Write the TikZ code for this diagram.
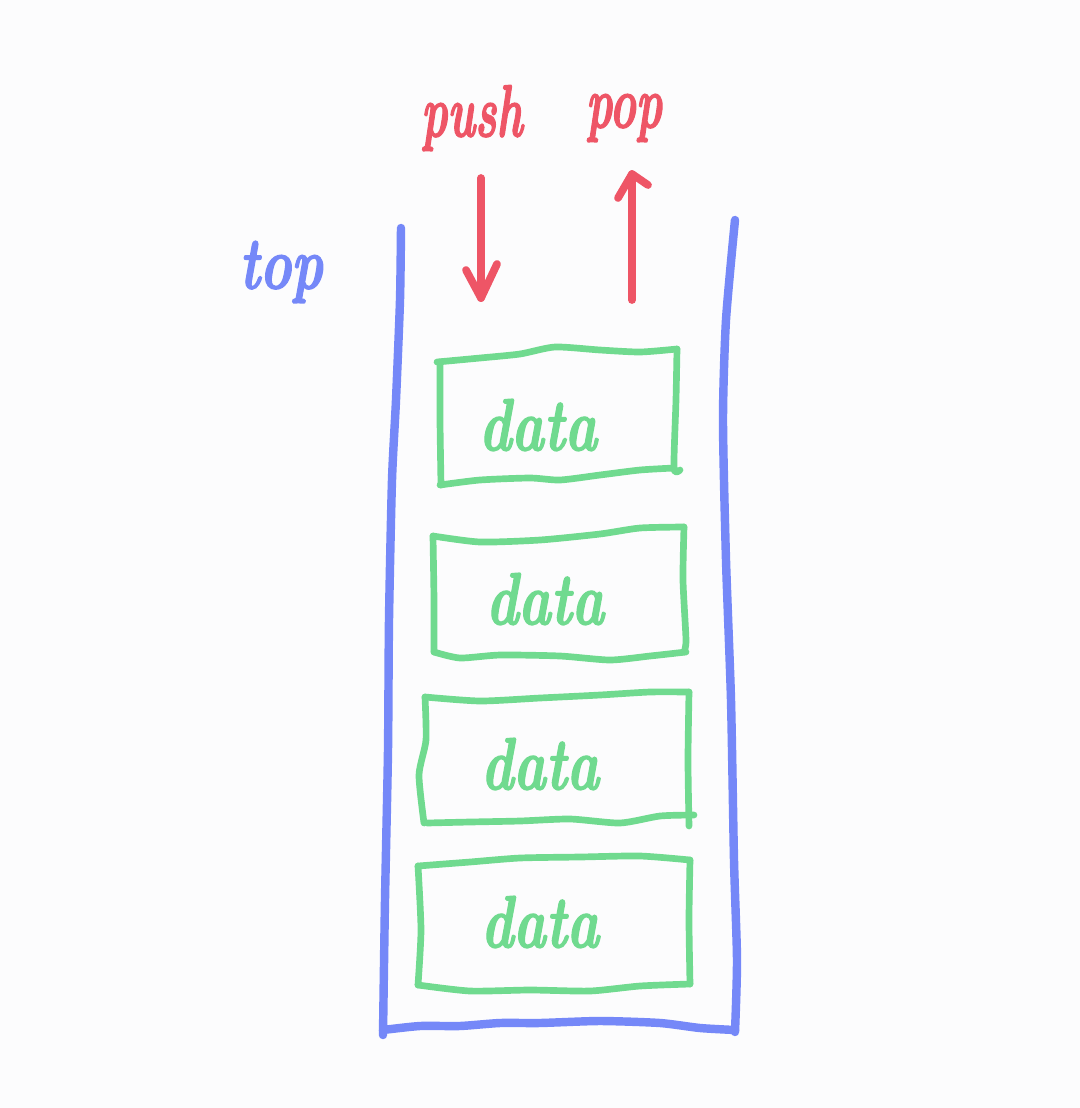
\documentclass[tikz,border=0pt]{standalone}
\usepackage{fontspec}
\setmainfont{Latin Modern Roman}
\newfontfamily\handfont{lmroman10-bolditalic.otf}[FakeBold=2]
\definecolor{sblue}{HTML}{7588F8}
\definecolor{sred}{HTML}{EE5566}
\definecolor{sgreen}{HTML}{70DA8F}
\definecolor{bg}{HTML}{FCFCFD}
\begin{document}
\begin{tikzpicture}[x=0.01cm,y=-0.01cm,
  bluepen/.style={draw=sblue,line width=2.4pt,line cap=round,line join=round},
  redpen/.style={draw=sred,line width=2.2pt,line cap=round,line join=round},
  greenpen/.style={draw=sgreen,line width=1.9pt,line cap=round,line join=round},
  hand/.style={font=\handfont\fontsize{21}{24}\selectfont},
  datalbl/.style={hand,text=sgreen,xscale=0.74},
  redlbl/.style={hand,text=sred,xscale=0.6},
  bluelbl/.style={hand,text=sblue,xscale=0.72}]
\fill[bg] (0,0) rectangle (1080,1108);
\useasboundingbox (0,0) rectangle (1080,1108);

% container
\draw[bluepen] plot[smooth,tension=0.4] coordinates {(401,228) (400,300) (396,400) (392,480) (389,620) (388,750) (385,900) (383,1035)};
\draw[bluepen] plot[smooth,tension=0.4] coordinates {(383,1030) (420,1026) (460,1026) (500,1023) (540,1023) (600,1021) (660,1023) (700,1028) (735,1030)};
\draw[bluepen] plot[smooth,tension=0.4] coordinates {(735,1032) (737,960) (734,860) (731,700) (726,560) (723,420) (726,320) (735,220)};

% labels
\node[bluelbl] (top) at (281,272) {top};
\node[redlbl] (push) at (472,118) {push};
\node[redlbl] (pop) at (624,118) {pop};

% arrows
\coordinate (pushA) at (481,178);
\coordinate (pushB) at (481,298);
\coordinate (popA) at (632,300);
\coordinate (popB) at (632,174);
\draw[redpen] (pushA) -- (pushB);
\draw[redpen] (466,270) -- (pushB) -- (497,264);
\draw[redpen] (popA) -- (popB);
\draw[redpen] (618,198) -- (popB) -- (648,185);

% boxes
% box 1
\draw[greenpen] plot[smooth,tension=0.4] coordinates {(437,362) (480,358) (520,354) (555,347) (600,350) (640,352) (677,349)};
\draw[greenpen] plot[smooth,tension=0.4] coordinates {(677,349) (676,400) (674,468) (680,470)};
\draw[greenpen] plot[smooth,tension=0.4] coordinates {(440,485) (480,480) (530,478) (560,480) (600,475) (640,470) (674,468)};
\draw[greenpen] plot[smooth,tension=0.4] coordinates {(440,362) (440,420) (441,485)};
\node[datalbl] (d1) at (538,425) {data};
% box 2
\draw[greenpen] plot[smooth,tension=0.4] coordinates {(433,536) (480,542) (540,540) (600,534) (640,528) (684,527)};
\draw[greenpen] plot[smooth,tension=0.4] coordinates {(684,527) (683,580) (686,640) (684,652)};
\draw[greenpen] plot[smooth,tension=0.4] coordinates {(434,652) (460,658) (500,655) (560,656) (610,660) (650,656) (686,652)};
\draw[greenpen] plot[smooth,tension=0.4] coordinates {(433,536) (434,600) (434,652)};
\node[datalbl] (d2) at (545,599) {data};
% box 3
\draw[greenpen] plot[smooth,tension=0.4] coordinates {(425,697) (480,701) (540,698) (600,695) (650,692) (689,692)};
\draw[greenpen] plot[smooth,tension=0.4] coordinates {(689,692) (688,760) (689,826)};
\draw[greenpen] plot[smooth,tension=0.4] coordinates {(427,823) (470,822) (520,821) (570,819) (620,823) (660,816) (694,815)};
\draw[greenpen] plot[smooth,tension=0.4] coordinates {(425,697) (426,740) (419,775) (424,823)};
\node[datalbl] (d3) at (540,764) {data};
% box 4
\draw[greenpen] plot[smooth,tension=0.4] coordinates {(418,866) (470,862) (520,858) (580,857) (640,856) (690,860)};
\draw[greenpen] plot[smooth,tension=0.4] coordinates {(690,860) (689,920) (690,984)};
\draw[greenpen] plot[smooth,tension=0.4] coordinates {(418,985) (470,991) (530,990) (590,991) (640,986) (690,984)};
\draw[greenpen] plot[smooth,tension=0.4] coordinates {(418,866) (421,930) (418,985)};
\node[datalbl] (d4) at (540,922) {data};
\end{tikzpicture}
\end{document}
